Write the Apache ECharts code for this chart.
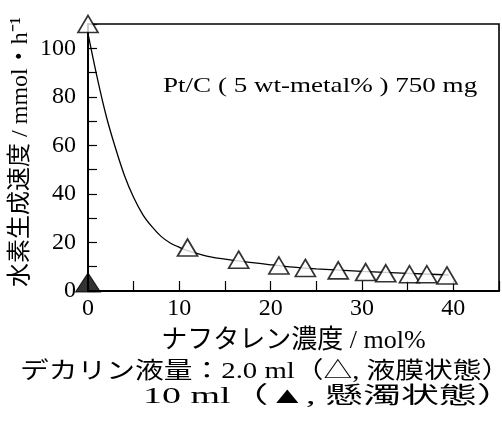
<!DOCTYPE html>
<html>
<head>
<meta charset="utf-8">
<script src="https://cdn.jsdelivr.net/npm/echarts@6/dist/echarts.min.js"></script>
<style>
html,body{margin:0;padding:0;background:#fff;}
#c{width:502px;height:424px;}
</style>
</head>
<body>
<div id="c"></div>
<script>
// Naphthalene concentration (mol%) and H2 evolution rate (mmol/h), decalin 2.0 ml (liquid-film, open triangles)
const naphConc2ml = [0, 10.9, 16.5, 20.9, 23.8, 27.4, 30.4, 32.6, 35.2, 37.1, 39.3];
const rate2ml     = [110, 17.9, 12.9, 10.5, 9.5, 8.5, 7.8, 7.3, 6.9, 6.9, 6.4];
// decalin 10 ml (suspended, filled triangle)
const naphConc10ml = [0];
const rate10ml     = [3.5];
// hand-drawn trend curve
const curveX = [0, 1, 2, 3, 4, 5, 6, 7, 8, 9, 10, 11, 13, 15.4, 18, 20, 22.5, 25, 30, 35, 39.5];
const curveY = [106, 88, 72, 59, 47.5, 38.5, 31.5, 26.5, 22.5, 19.8, 18, 16.5, 14.4, 12.9, 11.7, 10.8, 9.8, 9.1, 8.1, 7.3, 6.6];
// tick labels
const xTickLabels = [0, 10, 20, 30, 40];
const yTickLabels = [0, 20, 40, 60, 80, 100];
// texts
const xAxisTitle = 'ナフタレン濃度 / mol%';
const yAxisTitle = '水素生成速度 / mmol・h⁻¹';
const catalystNote = 'Pt/C ( 5 wt-metal% ) 750 mg';
const legendLine1 = 'デカリン液量：2.0 ml（△, 液膜状態）';
const legendLine2 = '10 ml（▲, 懸濁状態）';

const LAT = 'Liberation Serif';
const MIX = 'Liberation Serif, Noto Sans CJK JP';

const zip = (xs, ys) => xs.map((x, i) => [x, ys[i]]);

const chart = echarts.init(document.getElementById('c'), null, {renderer: 'canvas'});
chart.setOption({
  animation: false,
  backgroundColor: '#fff',
  grid: {left: 88, right: 3, top: 24, bottom: 133, show: true, borderColor: '#000', borderWidth: 1.6, containLabel: false},
  xAxis: {
    type: 'value', min: 0, max: 45, interval: 5,
    name: xAxisTitle, nameLocation: 'middle', nameGap: 37,
    nameTextStyle: {color: '#000', fontSize: 26, fontFamily: MIX},
    axisLine: {show: true, lineStyle: {color: '#000', width: 2}},
    axisTick: {show: true, inside: true, length: 10, lineStyle: {color: '#000', width: 1.2}},
    axisLabel: {show: true, margin: 6, color: '#000', fontSize: 24, fontFamily: LAT,
      formatter: v => xTickLabels.includes(v) ? String(v) : ''},
    splitLine: {show: false}
  },
  yAxis: {
    type: 'value', min: 0, max: 110, interval: 10,
    axisLine: {show: true, lineStyle: {color: '#000', width: 2}},
    axisTick: {show: true, inside: true, length: 9, lineStyle: {color: '#000', width: 1.2}},
    axisLabel: {show: true, margin: 12, color: '#000', fontSize: 24, fontFamily: LAT,
      formatter: v => yTickLabels.includes(v) ? String(v) : ''},
    splitLine: {show: false}
  },
  series: [
    {
      type: 'line', data: zip(curveX, curveY), smooth: 0.3,
      showSymbol: false, symbol: 'none', clip: false, z: 2,
      lineStyle: {color: '#000', width: 1.3}
    },
    {
      type: 'scatter', data: zip(naphConc2ml, rate2ml), symbol: 'triangle', symbolSize: [20, 17],
      clip: false, z: 3,
      itemStyle: {color: '#fff', borderColor: '#000', borderWidth: 1.7}
    },
    {
      type: 'scatter', data: zip(naphConc10ml, rate10ml), symbol: 'triangle', symbolSize: [25, 19],
      clip: false, z: 4,
      itemStyle: {color: '#000', borderColor: '#000', borderWidth: 1}
    }
  ],
  graphic: [
    {type: 'text', x: 21, y: 152, rotation: Math.PI / 2,
      style: {text: yAxisTitle, fontSize: 24, fontFamily: MIX, fill: '#000', align: 'center', verticalAlign: 'middle'}},
    {type: 'text', x: 163, y: 86, scaleX: 1.23,
      style: {text: catalystNote, fontSize: 22, fontFamily: LAT, fill: '#000', align: 'left', verticalAlign: 'middle'}},
    {type: 'text', x: 20, y: 372, scaleX: 1.25,
      style: {text: legendLine1, fontSize: 23, fontFamily: MIX, fill: '#000', align: 'left', verticalAlign: 'middle'}},
    {type: 'text', x: 143, y: 397, scaleX: 1.65,
      style: {text: legendLine2, fontSize: 23, fontFamily: MIX, fill: '#000', align: 'left', verticalAlign: 'middle'}}
  ]
});
</script>
</body>
</html>
